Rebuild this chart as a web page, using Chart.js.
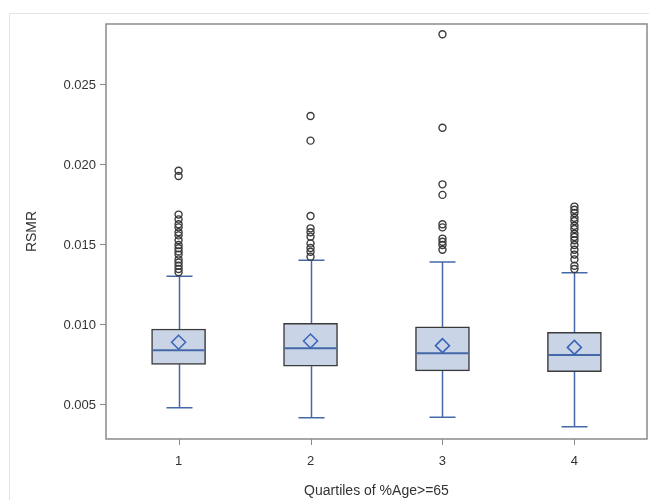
<!DOCTYPE html>
<html>
<head>
<meta charset="utf-8">
<title>RSMR by Quartiles of %Age>=65</title>
<script src="https://cdn.jsdelivr.net/npm/chart.js@4.4.1/dist/chart.umd.min.js"></script>
<style>
  html, body { margin: 0; padding: 0; background: #fff; }
  #wrap { width: 649px; height: 500px; position: relative; }
</style>
</head>
<body>
<div id="wrap"><canvas id="chart"></canvas></div>
<script>
// Box plot values
const CATEGORIES = [1, 2, 3, 4];
const WHISKER_LOW = [0.00483, 0.00421, 0.00423, 0.00364];
const Q1_VALUES = [0.00754, 0.00742, 0.00713, 0.00708];
const MEDIANS = [0.00842, 0.00854, 0.00823, 0.00813];
const MEANS = [0.00892, 0.00900, 0.00871, 0.00860];
const Q3_VALUES = [0.00975, 0.01011, 0.00989, 0.00954];
const WHISKER_HIGH = [0.01305, 0.01405, 0.01394, 0.01326];

const OUTLIERS_Q1 = [0.01964, 0.01931, 0.0169, 0.0166, 0.0163, 0.0161, 0.0158, 0.0156, 0.0153,
  0.0150, 0.0148, 0.0146, 0.0144, 0.0141, 0.0139, 0.0137, 0.0135, 0.0133];
const OUTLIERS_Q2 = [0.02306, 0.02152, 0.01681, 0.01604, 0.0158, 0.01552, 0.0151, 0.01481,
  0.01458, 0.01427];
const OUTLIERS_Q3 = [0.02817, 0.02233, 0.01879, 0.01813, 0.0163, 0.0161, 0.0154, 0.0152,
  0.0150, 0.0147];
const OUTLIERS_Q4 = [0.0174, 0.0172, 0.0170, 0.0167, 0.0165, 0.0162, 0.0160, 0.0157, 0.0155,
  0.0153, 0.0150, 0.0147, 0.0144, 0.0141, 0.0137, 0.0135];

const Y_TICKS = [0.005, 0.010, 0.015, 0.020, 0.025];

const BLUE = '#4468a8';
const FRAME = '#8a8a8a';
const FONT = "'Liberation Sans', Arial, sans-serif";

// Flatten outliers into scatter points
const outlierPoints = [];
[OUTLIERS_Q1, OUTLIERS_Q2, OUTLIERS_Q3, OUTLIERS_Q4].forEach((list, i) => {
  list.forEach(v => outlierPoints.push({ x: CATEGORIES[i], y: v }));
});

/**
 * Whiskers, caps, medians, x tick marks and frame drawn through the chart's scales
 */
const boxPartsPlugin = {
  id: 'boxParts',
  beforeDraw(chart) {
    const ctx = chart.ctx;
    ctx.save();
    ctx.strokeStyle = '#e4e4e4';
    ctx.lineWidth = 1;
    ctx.beginPath();
    ctx.moveTo(9.5, chart.height);
    ctx.lineTo(9.5, 13.5);
    ctx.lineTo(chart.width, 13.5);
    ctx.stroke();
    ctx.restore();
  },
  beforeDatasetsDraw(chart) {
    const { ctx, scales: { x, y } } = chart;
    ctx.save();
    ctx.strokeStyle = BLUE;
    ctx.lineWidth = 1.5;
    CATEGORIES.forEach((c, i) => {
      const px = Math.round(x.getPixelForValue(c)) + 0.5;
      const lo = y.getPixelForValue(WHISKER_LOW[i]);
      const hi = y.getPixelForValue(WHISKER_HIGH[i]);
      const q1 = y.getPixelForValue(Q1_VALUES[i]);
      const q3 = y.getPixelForValue(Q3_VALUES[i]);
      ctx.beginPath();
      ctx.moveTo(px, lo); ctx.lineTo(px, q1);
      ctx.moveTo(px, q3); ctx.lineTo(px, hi);
      ctx.moveTo(px - 13, lo); ctx.lineTo(px + 13, lo);
      ctx.moveTo(px - 13, hi); ctx.lineTo(px + 13, hi);
      ctx.stroke();
    });
    ctx.restore();
  },
  afterDatasetDraw(chart, args) {
    if (args.index !== 0) return;
    const { ctx, scales: { x, y } } = chart;
    ctx.save();
    ctx.strokeStyle = BLUE;
    ctx.lineWidth = 2;
    CATEGORIES.forEach((c, i) => {
      const px = x.getPixelForValue(c);
      const m = y.getPixelForValue(MEDIANS[i]);
      ctx.beginPath();
      ctx.moveTo(px - 26, m); ctx.lineTo(px + 26, m);
      ctx.stroke();
    });
    ctx.restore();
  },
  afterDraw(chart) {
    const { ctx, chartArea: a, scales: { x } } = chart;
    ctx.save();
    ctx.strokeStyle = FRAME;
    ctx.lineWidth = 1;
    ctx.beginPath();
    CATEGORIES.forEach(c => {
      const px = Math.round(x.getPixelForValue(c)) + 0.5;
      ctx.moveTo(px, a.bottom);
      ctx.lineTo(px, a.bottom + 6);
    });
    ctx.stroke();
    ctx.lineWidth = 1.5;
    ctx.strokeRect(a.left, a.top, a.right - a.left, a.bottom - a.top);
    ctx.restore();
  }
};

new Chart(document.getElementById('chart'), {
  type: 'bar',
  data: {
    datasets: [
      {
        type: 'bar',
        label: 'Box',
        data: CATEGORIES.map((c, i) => ({ x: c, y: [Q1_VALUES[i], Q3_VALUES[i]] })),
        backgroundColor: '#c9d4e7',
        borderColor: '#3a3a3a',
        borderWidth: 1.5,
        borderSkipped: false,
        barThickness: 54,
        order: 3
      },
      {
        type: 'scatter',
        label: 'Mean',
        data: CATEGORIES.map((c, i) => ({ x: c, y: MEANS[i] })),
        pointStyle: 'rectRot',
        pointRadius: 7,
        pointBorderWidth: 1.5,
        pointBorderColor: '#3a62b8',
        pointBackgroundColor: 'rgba(0,0,0,0)',
        order: 2
      },
      {
        type: 'scatter',
        label: 'Outliers',
        data: outlierPoints,
        pointStyle: 'circle',
        pointRadius: 3.5,
        pointBorderWidth: 1.4,
        pointBorderColor: '#3a3a3a',
        pointBackgroundColor: 'rgba(0,0,0,0)',
        order: 1
      }
    ]
  },
  options: {
    responsive: true,
    maintainAspectRatio: false,
    animation: false,
    layout: { autoPadding: false, padding: { top: 24, right: 2, left: 0, bottom: 0 } },
    plugins: {
      legend: { display: false },
      tooltip: { enabled: false }
    },
    scales: {
      x: {
        type: 'linear',
        min: 0.45,
        max: 4.55,
        offset: false,
        afterBuildTicks: scale => { scale.ticks = CATEGORIES.map(v => ({ value: v })); },
        afterFit: scale => { scale.height = 61; scale.paddingRight = 0; scale.paddingLeft = 0; },
        ticks: {
          callback: v => String(v),
          color: '#333',
          font: { family: FONT, size: 13 },
          padding: 7,
          maxRotation: 0
        },
        grid: { display: false, offset: false },
        border: { display: false },
        title: {
          display: true,
          text: 'Quartiles of %Age>=65',
          color: '#333',
          font: { family: FONT, size: 14 },
          padding: { top: 0, bottom: 0 }
        }
      },
      y: {
        type: 'linear',
        min: 0.002875,
        max: 0.02881,
        afterBuildTicks: scale => { scale.ticks = Y_TICKS.map(v => ({ value: v })); },
        afterFit: scale => { scale.width = 106; },
        ticks: {
          callback: v => v.toFixed(3),
          color: '#333',
          font: { family: FONT, size: 13 },
          padding: 4
        },
        grid: { drawOnChartArea: false, tickLength: 6, tickColor: FRAME, color: FRAME },
        border: { display: false },
        title: {
          display: true,
          text: 'RSMR',
          color: '#333',
          font: { family: FONT, size: 14 },
          padding: { top: 24, bottom: 4 }
        }
      }
    }
  },
  plugins: [boxPartsPlugin]
});
</script>
</body>
</html>
